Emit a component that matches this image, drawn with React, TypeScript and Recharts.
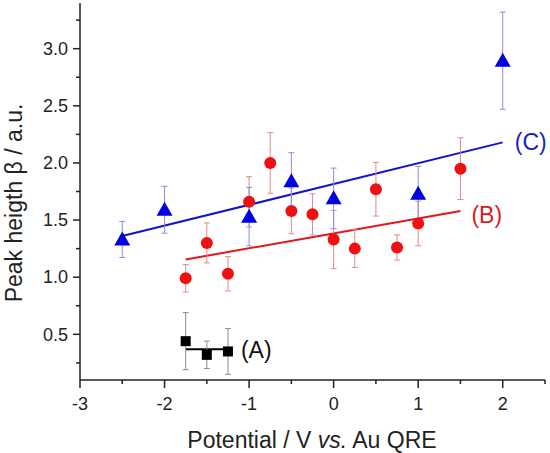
import {
  ComposedChart,
  Line,
  Scatter,
  ErrorBar,
  XAxis,
  YAxis,
  LabelList,
} from 'recharts';

// potentials (V vs. Au QRE)
const potA = [-1.75, -1.5, -1.25];
const peakA = [0.44, 0.32, 0.35];
const errA = [0.25, 0.12, 0.2];

const potB = [-1.75, -1.5, -1.25, -1, -0.75, -0.5, -0.25, 0, 0.25, 0.5, 0.75, 1, 1.5];
const peakB = [0.99, 1.3, 1.03, 1.66, 2.0, 1.58, 1.55, 1.33, 1.25, 1.77, 1.26, 1.47, 1.95];
const errB = [0.12, 0.175, 0.15, 0.22, 0.265, 0.2, 0.18, 0.255, 0.165, 0.235, 0.11, 0.195, 0.27];

const potC = [-2.5, -2, -1, -0.5, 0, 1, 2];
const peakC = [1.33, 1.59, 1.53, 1.84, 1.69, 1.73, 2.895];
const errC = [0.158, 0.205, 0.255, 0.25, 0.265, 0.24, 0.425];

// linear fits (end points)
const fitAX = [-1.75, -1.25];
const fitAY = [0.37, 0.37];
const fitBX = [-1.75, 1.5];
const fitBY = [1.155, 1.58];
const fitCX = [-2.5, 2];
const fitCY = [1.36, 2.18];

const xTicks = [-3, -2.5, -2, -1.5, -1, -0.5, 0, 0.5, 1, 1.5, 2, 2.5];
const yTicks = [0.25, 0.5, 0.75, 1, 1.25, 1.5, 1.75, 2, 2.25, 2.5, 2.75, 3, 3.25];

const FONT = '"Liberation Sans", Arial, sans-serif';
const AXIS = '#222';

const pts = (xs: number[], ys: number[], es: number[]) =>
  xs.map((x, i) => ({ x, y: ys[i], err: es[i] }));

const fit = (xs: number[], ys: number[], tag: string) =>
  xs.map((x, i) => ({ x, y: ys[i], tag: i === xs.length - 1 ? tag : '' }));

const dataA = pts(potA, peakA, errA);
const dataB = pts(potB, peakB, errB);
const dataC = pts(potC, peakC, errC);

function XTick({ x, y, payload }: any) {
  const major = Number.isInteger(payload.value);
  return (
    <g>
      <line x1={x} x2={x} y1={y} y2={y + (major ? 8 : 4)} stroke={AXIS} strokeWidth={1.5} />
      {major && (
        <text x={x} y={y + 30} textAnchor="middle" fontSize={18} fill={AXIS} fontFamily={FONT}>
          {payload.value}
        </text>
      )}
    </g>
  );
}

function YTick({ x, y, payload }: any) {
  const major = Number.isInteger(payload.value * 2);
  return (
    <g>
      <line x1={x} x2={x - (major ? 7 : 4)} y1={y} y2={y} stroke={AXIS} strokeWidth={1.5} />
      {major && (
        <text x={x - 12} y={y} dy="0.35em" textAnchor="end" fontSize={18} fill={AXIS} fontFamily={FONT}>
          {payload.value.toFixed(1)}
        </text>
      )}
    </g>
  );
}

const tagLabel = (color: string, dx: number, dy: number) => (p: any) =>
  p.value ? (
    <text
      x={p.x + dx}
      y={p.y + dy}
      dy="0.35em"
      fontSize={23}
      fill={color}
      fontFamily={FONT}
    >
      {p.value}
    </text>
  ) : null;

const circle = (p: any) => <circle cx={p.cx} cy={p.cy} r={6} fill="#ee1111" />;
const triangle = (p: any) => (
  <polygon
    points={`${p.cx},${p.cy - 8} ${p.cx - 8},${p.cy + 6} ${p.cx + 8},${p.cy + 6}`}
    fill="#0000e0"
  />
);
const square = (p: any) => <rect x={p.cx - 5} y={p.cy - 5} width={10} height={10} fill="#000" />;

export default function App() {
  return (
    <div style={{ position: 'absolute', left: 0, top: 0, width: 550, height: 453, background: '#fff' }}>
      <ComposedChart width={550} height={453} margin={{ top: 3, right: 5, left: 0, bottom: 0 }}>
        <XAxis
          type="number"
          dataKey="x"
          domain={[-3, 2.5]}
          ticks={xTicks}
          interval={0}
          allowDataOverflow
          height={73}
          tickSize={0}
          tickMargin={0}
          tickLine={false}
          axisLine={{ stroke: AXIS, strokeWidth: 1.5 }}
          tick={<XTick />}
        />
        <YAxis
          type="number"
          dataKey="y"
          domain={[0.1, 3.4]}
          ticks={yTicks}
          interval={0}
          allowDataOverflow
          width={80}
          tickSize={0}
          tickMargin={0}
          tickLine={false}
          axisLine={{ stroke: AXIS, strokeWidth: 1.5 }}
          tick={<YTick />}
        />
        <Line data={fit(fitAX, fitAY, '(A)')} dataKey="y" type="linear" stroke="#000" strokeWidth={2} dot={false} isAnimationActive={false}>
          <LabelList dataKey="tag" content={tagLabel('#111', 13, 1)} />
        </Line>
        <Line data={fit(fitBX, fitBY, '(B)')} dataKey="y" type="linear" stroke="#e01818" strokeWidth={2} dot={false} isAnimationActive={false}>
          <LabelList dataKey="tag" content={tagLabel('#d81c1c', 11, 4)} />
        </Line>
        <Line data={fit(fitCX, fitCY, '(C)')} dataKey="y" type="linear" stroke="#1414c8" strokeWidth={2} dot={false} isAnimationActive={false}>
          <LabelList dataKey="tag" content={tagLabel('#1c1cc0', 12, 0)} />
        </Line>
        <Scatter data={dataA} dataKey="y" shape={square} isAnimationActive={false}>
          <ErrorBar dataKey="err" direction="y" width={3} stroke="#8c8c8c" strokeWidth={1} />
        </Scatter>
        <Scatter data={dataB} dataKey="y" shape={circle} isAnimationActive={false}>
          <ErrorBar dataKey="err" direction="y" width={3} stroke="#e08c8c" strokeWidth={1} />
        </Scatter>
        <Scatter data={dataC} dataKey="y" shape={triangle} isAnimationActive={false}>
          <ErrorBar dataKey="err" direction="y" width={3} stroke="#8c8ce6" strokeWidth={1} />
        </Scatter>
      </ComposedChart>
      <svg
        width={550}
        height={453}
        style={{ position: 'absolute', left: 0, top: 0, pointerEvents: 'none' }}
      >
        <text
          transform="translate(22,203) rotate(-90)"
          textAnchor="middle"
          fontSize={23}
          fill={AXIS}
          fontFamily={FONT}
        >
          Peak heigth β / a.u.
        </text>
        <text x={312} y={448} textAnchor="middle" fontSize={23} fill={AXIS} fontFamily={FONT}>
          Potential / V <tspan fontStyle="italic">vs.</tspan> Au QRE
        </text>
      </svg>
    </div>
  );
}
